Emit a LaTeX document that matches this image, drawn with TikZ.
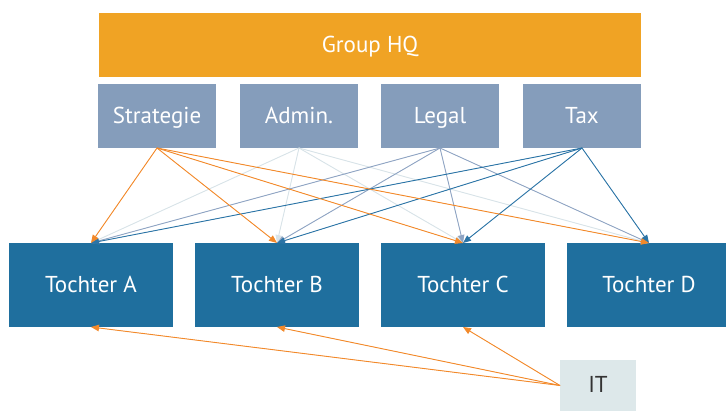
\documentclass[tikz,border=0pt]{standalone}
\usepackage{fontspec}
\setmainfont{PT Sans}
\usetikzlibrary{arrows.meta}

\definecolor{hqorange}{HTML}{F0A324}
\definecolor{deptblue}{HTML}{859DBB}
\definecolor{subblue}{HTML}{1F6F9E}
\definecolor{itgray}{HTML}{DDE8EA}
\definecolor{lnorange}{HTML}{F2892A}
\definecolor{lnadmin}{HTML}{D8E3E8}
\definecolor{lnlegal}{HTML}{8FA4C3}
\definecolor{lntax}{HTML}{2B74A6}

\begin{document}
\begin{tikzpicture}[x=1pt,y=-1pt,
  box/.style={rectangle, inner sep=0pt, outer sep=0pt, text=white,
              font=\fontsize{23}{26}\selectfont,
              text height=20pt, text depth=5pt},
  hqbox/.style={box, fill=hqorange, minimum width=542pt, minimum height=64pt},
  deptbox/.style={box, fill=deptblue, minimum width=118pt, minimum height=64pt},
  subbox/.style={box, fill=subblue, minimum width=164pt, minimum height=84pt},
  itbox/.style={box, fill=itgray, text=black!80, minimum width=76pt, minimum height=51pt},
  link/.style={line width=0.9pt, -{Triangle[length=8pt,width=6.5pt]}},
]
\useasboundingbox (0,0) rectangle (726,411);

% headquarters
\node[hqbox] (hq) at (370,45) {Group HQ};

% central functions
\node[deptbox] (strat) at (157,116) {Strategie};
\node[deptbox] (admin) at (299,116) {Admin.};
\node[deptbox] (legal) at (440,116) {Legal};
\node[deptbox] (tax)   at (582,116) {Tax};

% subsidiaries
\node[subbox] (ta) at (91,285)  {Tochter A};
\node[subbox] (tb) at (277,285) {Tochter B};
\node[subbox] (tc) at (463,285) {Tochter C};
\node[subbox] (td) at (649,285) {Tochter D};

% shared IT service
\node[itbox] (it) at (598,385.5) {IT};

% service relations from each function to every subsidiary
\foreach \src/\col in {admin/lnadmin, legal/lnlegal, tax/lntax, strat/lnorange}{
  \foreach \dst in {ta,tb,tc,td}{
    \draw[link, draw=\col, fill=\col] (\src.south) -- (\dst.north);
  }
}

% IT supplies three subsidiaries
\foreach \dst in {ta,tb,tc}{
  \draw[link, draw=lnorange, fill=lnorange] (it.west) -- (\dst.south);
}
\end{tikzpicture}
\end{document}
